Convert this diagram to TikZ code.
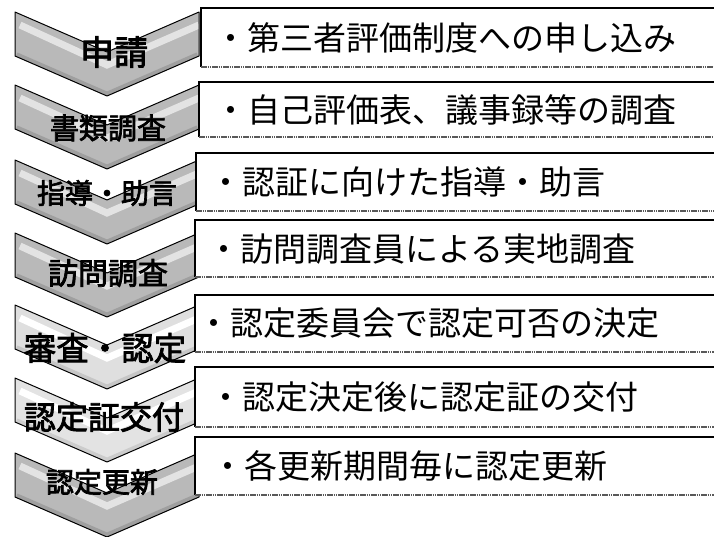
\documentclass[tikz,border=0pt]{standalone}
\usepackage{fontspec}
\newfontfamily\cjk{Noto Sans CJK JP}
\newfontfamily\cjkb[FakeBold=2.5]{Noto Sans CJK JP}
\newcommand\chevshape[1]{(15,#1) -- (107,#1+40) -- (199,#1) -- (199,#1+44) -- (107,#1+84) -- (15,#1+44) -- cycle}
\newcommand\mychevron[4]{%
  \begin{scope}
    \clip \chevshape{#1};
    \fill[#2] (0,#1-5) rectangle (210,#1+90);
    \draw[#4, line width=12pt] (15,#1+46) -- (107,#1+86) -- (199,#1+46);
    \draw[#3, line width=7pt] (20,#1+13) -- (107,#1+53) -- (199,#1+13);
  \end{scope}
  \draw[black, line width=1pt, line join=round] \chevshape{#1};
}
\newcommand\mybox[3]{% left, top, bottom
  \fill[white] (#1,#2) rectangle (730,#3);
  \draw[black, line width=1.3pt] (730,#2) -- (#1,#2) -- (#1,#3);
  \draw[black!65, line width=1.2pt, dash pattern=on 1.5pt off 0.7pt] (#1,#3) -- (730,#3);
}
\begin{document}
\begin{tikzpicture}[x=1pt,y=-1pt,
  lbl/.style={inner sep=0pt, text=black},
  txt/.style={anchor=west, inner sep=0pt, font=\cjk\fontsize{33}{33}\selectfont}]
\useasboundingbox (0,0) rectangle (714,536);
\clip (0,0) rectangle (714,536);
\fill[white] (0,0) rectangle (714,536);
% chevrons, bottom first
\mychevron{453}{gray!55}{gray!22}{gray!75}
\mychevron{378}{gray!22}{white}{gray!40}
\mychevron{305}{gray!25}{white}{gray!45}
\mychevron{233}{gray!55}{gray!22}{gray!75}
\mychevron{160}{gray!55}{gray!22}{gray!75}
\mychevron{85}{gray!55}{gray!22}{gray!75}
\mychevron{12}{gray!55}{gray!22}{gray!75}
% chevron labels
\node[lbl, font=\cjkb\fontsize{34}{34}\selectfont] (c1) at (114,52) {申請};
\node[lbl, font=\cjkb\fontsize{29}{29}\selectfont] (c2) at (108,128) {書類調査};
\node[lbl, font=\cjkb\fontsize{28}{28}\selectfont] (c3) at (107,193) {指導・助言};
\node[lbl, font=\cjkb\fontsize{30}{30}\selectfont] (c4) at (108,273) {訪問調査};
\node[lbl, font=\cjkb\fontsize{32.5}{32.5}\selectfont] (c5) at (105,348) {審査・認定};
\node[lbl, font=\cjkb\fontsize{32}{32}\selectfont] (c6) at (104,417) {認定証交付};
\node[lbl, font=\cjkb\fontsize{28}{28}\selectfont] (c7) at (102,482) {認定更新};
% boxes
\mybox{201}{8}{67}
\mybox{199}{82}{137}
\mybox{196}{153}{211}
\mybox{195}{220}{277}
\mybox{195}{295}{352}
\mybox{195}{367}{427}
\mybox{195}{437}{495}
% box texts
\node[txt] (t1) at (214,37.5) {・第三者評価制度への申し込み};
\node[txt] (t2) at (214,110) {・自己評価表、議事録等の調査};
\node[txt] (t3) at (209,182) {・認証に向けた指導・助言};
\node[txt] (t4) at (207,249) {・訪問調査員による実地調査};
\node[txt] (t5) at (197,323) {・認定委員会で認定可否の決定};
\node[txt] (t6) at (209,397) {・認定決定後に認定証の交付};
\node[txt] (t7) at (211,466) {・各更新期間毎に認定更新};
\end{tikzpicture}
\end{document}
